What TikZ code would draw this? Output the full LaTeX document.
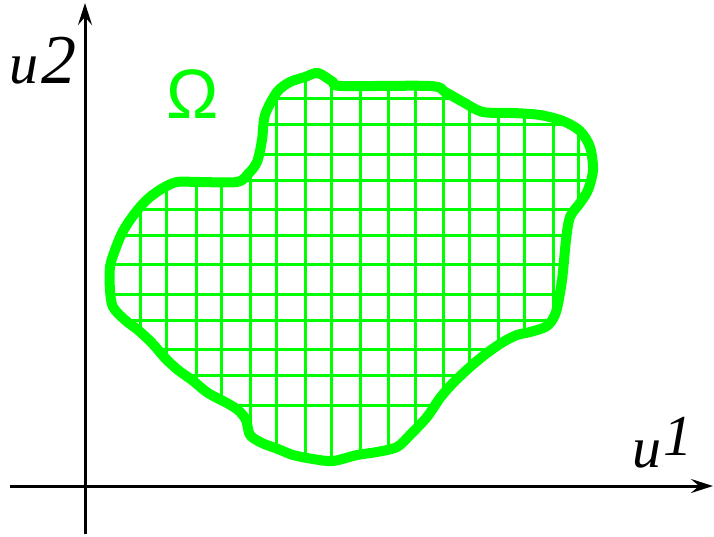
\documentclass[tikz,border=0pt]{standalone}
\usepackage{fontspec}
\setmainfont{Liberation Serif}
\newfontfamily\omegafont{Liberation Sans}
\usetikzlibrary{arrows.meta}
\definecolor{brightgreen}{RGB}{0,255,0}
\begin{document}
\begin{tikzpicture}[x=1pt,y=-1pt,
  axis/.style={line width=3pt,-{Stealth[length=22pt,width=14pt,inset=8pt]}},
  outline/.style={draw=brightgreen,line width=10pt,line join=round},
  gridline/.style={brightgreen,line width=3pt},
  lbl/.style={inner sep=0pt,font=\itshape}]
\useasboundingbox (0,0) rectangle (714,536);
% axes
\coordinate (xs) at (10,486);
\coordinate (xe) at (713,486);
\coordinate (ys) at (85,534);
\coordinate (ye) at (85,3);
\draw[axis] (xs) -- (xe);
\draw[axis] (ys) -- (ye);
% region
\path[save path=\blobpath] plot[smooth cycle,tension=0.5] coordinates {
(318,73) (333,82) (342,86) (430,86) (445,92) (463,102) (483,112) (513,113)
(540,115) (563,121) (580,131) (590,147) (593,170) (588,190) (580,203) (570,217)
(566,240) (562,280) (556,312) (547,326) (530,332) (517,335) (503,342) (487,353)
(470,367) (453,383) (440,398) (427,417) (410,435) (397,447) (377,452) (357,455)
(333,461) (313,459) (293,455) (278,449) (262,443) (250,435) (246,420) (238,410)
(225,402) (208,393) (192,380) (178,370) (165,358) (152,343) (138,330) (125,320)
(113,307) (110,290) (110,267) (115,250) (122,233) (130,220) (140,207) (150,197)
(163,188) (177,182) (200,182) (237,182) (248,174) (257,162) (262,140) (265,115)
(277,92) (290,82) (305,77)};
\begin{scope}
\clip[use path=\blobpath];
\foreach \x in {140,166,196,221,250,276,305,331,360,388,415,443,469,498,524,553,578}
  \draw[gridline] (\x,60) -- (\x,475);
\foreach \y in {98,124,154,180,209,235,264,294,320,349,375,405}
  \draw[gridline] (100,\y) -- (600,\y);
\end{scope}
\draw[outline,use path=\blobpath];
% labels
\node[lbl,anchor=base west] (u2) at (9,83) {\fontsize{58}{58}\selectfont u\kern3pt\fontsize{70}{70}\selectfont 2};
\node[lbl,anchor=base west] (u1) at (632,467) {\fontsize{58}{58}\selectfont u\kern2pt\fontsize{58}{58}\selectfont\raisebox{12pt}{1}};
\node[inner sep=0pt,text=brightgreen,font=\omegafont\fontsize{70}{70}\selectfont] (om) at (193,94) {Ω};
\end{tikzpicture}
\end{document}
